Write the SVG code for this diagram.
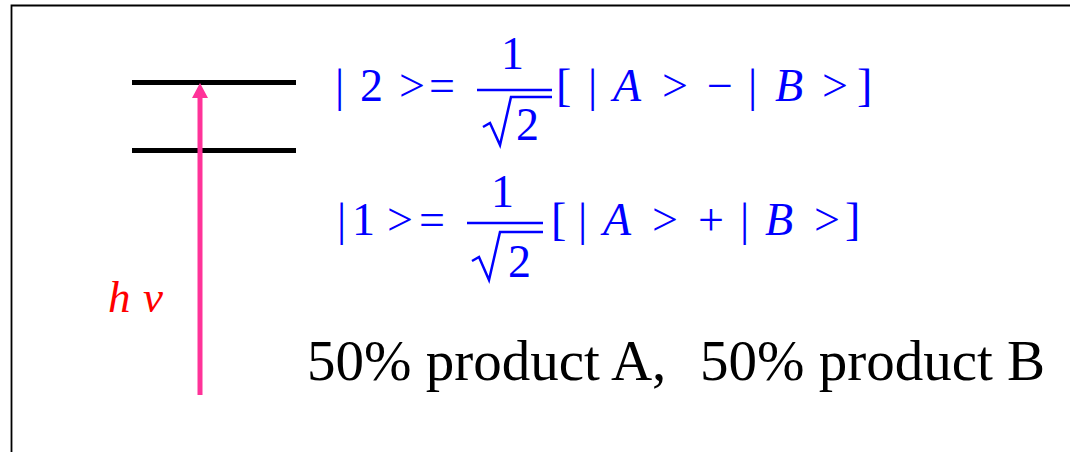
<svg xmlns="http://www.w3.org/2000/svg" width="1070" height="452" viewBox="0 0 1070 452">
<style>
.eq{font-family:"Liberation Serif",serif;font-size:46px;fill:#0000ff}
.it{font-style:italic}
.lvl{stroke:#000;stroke-width:5}
.bar{stroke:#0000ff;stroke-width:2.5}
.rad{fill:none;stroke:#0000ff;stroke-width:2.5;stroke-linejoin:miter}
.big{font-family:"Liberation Serif",serif;font-size:57px;fill:#000}
</style>
<rect width="1070" height="452" fill="#fff"/>
<path d="M11.5 452 V5.5 H1070" fill="none" stroke="#000" stroke-width="1.8"/>
<g id="level2"><line class="lvl" x1="132" y1="82.5" x2="296" y2="82.5"/></g>
<g id="level1"><line class="lvl" x1="132" y1="150.5" x2="296" y2="150.5"/></g>
<g id="connectors">
<line x1="200" y1="395" x2="200" y2="96" stroke="#ff3399" stroke-width="5"/>
<path d="M200 83 L208 98 L192 98 Z" fill="#ff3399"/>
</g>
<g id="hv"><text y="312" font-family="'Liberation Serif',serif" font-size="45" font-style="italic" fill="#ff0000"><tspan x="108">h</tspan><tspan x="143">ν</tspan></text></g>
<g id="eq2">
<text class="eq" y="101"><tspan x="335">|</tspan><tspan x="360">2</tspan><tspan x="399">&gt;</tspan><tspan x="429">=</tspan></text>
<text class="eq" x="501" y="69">1</text>
<line class="bar" x1="477" y1="90" x2="552" y2="90"/>
<path class="rad" d="M483 127 L490 123 L500 145 L511 97 H552"/>
<text class="eq" x="516" y="140">2</text>
<text class="eq" y="101"><tspan x="556">[</tspan><tspan x="588">|</tspan><tspan x="613" class="it">A</tspan><tspan x="662">&gt;</tspan><tspan x="707">−</tspan><tspan x="748">|</tspan><tspan x="775" class="it">B</tspan><tspan x="822">&gt;</tspan><tspan x="857">]</tspan></text>
</g>
<g id="eq1">
<text class="eq" y="235"><tspan x="337">|</tspan><tspan x="352">1</tspan><tspan x="387">&gt;</tspan><tspan x="419">=</tspan></text>
<text class="eq" x="491" y="207">1</text>
<line class="bar" x1="467" y1="223" x2="543" y2="223"/>
<path class="rad" d="M472 261 L479 257 L489 280 L500 232 H543"/>
<text class="eq" x="508" y="277">2</text>
<text class="eq" y="235"><tspan x="551">[</tspan><tspan x="578">|</tspan><tspan x="603" class="it">A</tspan><tspan x="652">&gt;</tspan><tspan x="698">+</tspan><tspan x="740">|</tspan><tspan x="765" class="it">B</tspan><tspan x="814">&gt;</tspan><tspan x="845">]</tspan></text>
</g>
<g id="result">
<text class="big" x="307" y="380">50% product A,</text>
<text class="big" x="700" y="380">50% product B</text>
</g>
</svg>
